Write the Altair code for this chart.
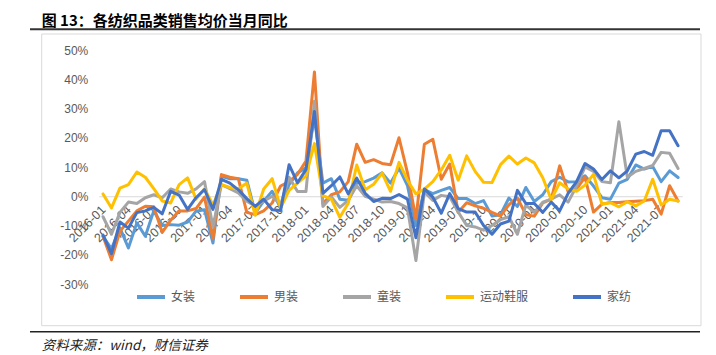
import altair as alt
import pandas as pd

# ---- data ----
months = [f"{y}-{m:02d}" for y in range(2016, 2022) for m in range(1, 13)][:69]
tick_months = months[::3]

series_names = ["女装", "男装", "童装", "运动鞋服", "家纺"]
series_colors = ["#5B9BD5", "#ED7D31", "#A5A5A5", "#FFC000", "#4472C4"]

nvzhuang = [-13.7, -18, -10.8, -17.7, -9.1, -13.7, -5, -10, -9.7, -9.9, -8.8, -5.1,
            -4.6, -16, 6.8, 6, 6, 5.5, -5.7, -1.7, 1.7, -4, 4, 8,
            9.7, 27, 4.5, 6, -1, -1.4, 4.5, 5, 6.2, 8, 4.5, 9.6,
            3.6, -10, 2.3, 0.9, 2, 3, -0.8, -0.8, -2.5, -1.5, -6.8, -6.3,
            -0.6, -3.5, 3, -1.8, 0.5, 5, 6.5, 4.9, 5, 7, 3.5, -0.5,
            -1, 4.5, 5.8, 10.7, 9.3, 10.2, 5, 8.7, 6.4]
nanzhuang = [-13.7, -21.7, -12, -8.5, -5, -3.4, -3.6, -12.4, -8.2, -5, -5, -4.2,
             -0.3, -14.5, 7.4, 6.5, 6, -5.5, -6.3, -5, -2.3, 3.5, 5, 7.5,
             12, 42.5, -2.5, 0.5, 1.5, 5, 17.8, 11.6, 12.5, 11.2, 10.8, 20,
             8, -7.8, 17.8, 19.5, 5.8, 11, -5.5, -2.2, -3.3, -4.1, -5.5, -6.8,
             -2.9, -0.6, -6.3, -6.8, -2.3, -1, 10.4, 1.5, 2.5, 6.5, -5.4, -2.7,
             -2.1, -2.1, -1.9, -1.7, -1.5, -1, -6.1, 3.6, -1.6]
tongzhuang = [-7, -13, -5.5, -2, -2.5, -0.5, 0.5, -0.5, 2.5, 1.5, 1, 2.5,
              5, -10.5, 4, 2.6, 1.1, -1.7, -3.4, -1.7, 0, -2.9, 6.5, 1.6,
              1.6, 32.5, -3.5, -0.2, -3.8, -1.4, 3.6, 0, -1, -2, -1.8, -2.5,
              -4, -22, 1.5, -1.4, 0.3, -0.2, -5.4, -10, -10.5, -11.6, -10, -8,
              -7, -13, -3, -5.5, -2, -1, 0.5, -2, 3.5, 10, 8.5, 5,
              4.6, 25.5, 6.5, 8.5, 9.5, 10.5, 15, 14.7, 9.5]
yundong = [0.8, -4, 2.8, 4, 8.3, 6.5, 2.6, -1.6, -2.3, 4, 6.3, -1,
           2.6, -3, 4, 3, 2.5, 4.5, -6.5, 2.5, 6, -4, 2, 4.5,
           7, 18, 0.2, -1, -7.2, -2.4, 10.7, 2.2, 4.1, 7.9, 1.7, 11.6,
           5.5, 0.8, 2.4, 5, 9, 14, 5.5, 13.8, 8.5, 4.8, 4.7, 10.8,
           13.7, 11, 13.1, 11.4, 6.3, -1.1, 4.6, 2.5, 1.7, 3.8, 7.5, -2.7,
           -2.2, -3.6, -1.9, -3.3, -1.6, 5.8, -3, -1, -1.6]
jiafang = [-13.3, -19.6, -8.8, -10.9, -5.6, -5, -3.8, -6, 1.7, 0.4, -4.5, -0.5,
           2.3, -4.5, 5.8, 4.5, 2.2, -0.8, -3.5, -1, -4.6, -4.9, 10.8, 4.6,
           9.1, 29, 1, 3.6, 6.6, 0.8, 6.2, 1, -1.8, -0.7, -0.8, 0.6,
           -1, -14.2, 2.5, -0.3, -5.8, 0.9, -4.2, -5.4, -5.4, -10, -13, -9.5,
           -8.5, 2, -2.5, -2.5, -5.5, -2, -5, 1, 5, 11.2, 9.3, 5.7,
           8.7, 6.3, 8.7, 14.4, 15.3, 14, 22.4, 22.4, 17.3]

y_ticks = [-30, -20, -10, 0, 10, 20, 30, 40, 50]
title_text = "图 13：各纺织品类销售均价当月同比"
source_text = "资料来源：wind，财信证券"

series_values = [nvzhuang, nanzhuang, tongzhuang, yundong, jiafang]
rows = []
for k, (name, vals) in enumerate(zip(series_names, series_values)):
    for i, (m, v) in enumerate(zip(months, vals)):
        rows.append({"month": m, "series": name, "value": v, "k": k})
df = pd.DataFrame(rows)

# ---- layout (pixels, relative to the plot area) ----
W, H = 583.5, 234
PAD_L, PAD_T = 90.8, 42
TOTAL_W, TOTAL_H = 700, 347
zero_from_bottom = H * 30 / 80

lines = alt.Chart(df).mark_line(strokeWidth=3, strokeJoin="round", strokeCap="round").encode(
    x=alt.X("month:O", sort=months,
            scale=alt.Scale(type="point", padding=0.5),
            axis=alt.Axis(values=tick_months, labelAngle=315, labelAlign="right",
                          labelBaseline="middle", labelPadding=11, ticks=False,
                          domainColor="#D9D9D9", domainWidth=1, offset=-zero_from_bottom,
                          title=None, labelColor="#595959", labelFont="Liberation Sans",
                          labelFontSize=12.5, grid=False, labelOverlap=False)),
    y=alt.Y("value:Q",
            scale=alt.Scale(domain=[-30, 50], nice=False, zero=False),
            axis=alt.Axis(values=y_ticks, labelExpr="datum.value + '%'", title=None,
                          domain=False, ticks=False, grid=False, labelPadding=11,
                          labelColor="#595959", labelFont="Liberation Sans",
                          labelFontSize=12)),
    color=alt.Color("series:N", sort=series_names,
                    scale=alt.Scale(domain=series_names, range=series_colors),
                    legend=alt.Legend(orient="none", legendX=36.2, legendY=231,
                                      direction="horizontal", title=None,
                                      symbolType="stroke", symbolSize=784,
                                      symbolStrokeWidth=4, labelFont="Noto Sans CJK SC",
                                      labelFontSize=12, labelColor="#595959",
                                      labelOffset=4, columnPadding=36, padding=0)),
    order=alt.Order("k:Q"),
)

dummy = pd.DataFrame({"a": [0]})

frame = alt.Chart(dummy).mark_rect(fillOpacity=0, stroke="#D9D9D9", strokeWidth=1).encode(
    x=alt.value(-57.1), x2=alt.value(602.2), y=alt.value(-16), y2=alt.value(275.7))

title_rule = alt.Chart(dummy).mark_rule(color="#333333", strokeWidth=2).encode(
    x=alt.value(-68.8), x2=alt.value(601.2), y=alt.value(-20.7))

bottom_rule = alt.Chart(dummy).mark_rule(color="#222222", strokeWidth=1.5).encode(
    x=alt.value(-68.8), x2=alt.value(601.2), y=alt.value(281.7))

title = alt.Chart(dummy).mark_text(align="left", baseline="alphabetic", fontSize=15,
                                   fontWeight="bold", font="Noto Sans CJK SC",
                                   color="#000000").encode(
    x=alt.value(-57.1), y=alt.value(-24.5), text=alt.value(title_text))

source = alt.Chart(dummy).mark_text(align="left", baseline="middle", fontSize=13.5,
                                    fontStyle="italic", font="Noto Sans CJK SC",
                                    color="#222222").encode(
    x=alt.value(-57.1), y=alt.value(296), text=alt.value(source_text))

chart = alt.layer(frame, title_rule, bottom_rule, title, source, lines).properties(
    width=W, height=H,
    padding={"left": PAD_L, "top": PAD_T, "right": TOTAL_W - PAD_L - W,
             "bottom": TOTAL_H - PAD_T - H},
    autosize=alt.AutoSizeParams(type="none"),
    background="white",
).configure_view(stroke=None)

chart.save("out.html", embed_options={"renderer": "svg", "actions": False})
